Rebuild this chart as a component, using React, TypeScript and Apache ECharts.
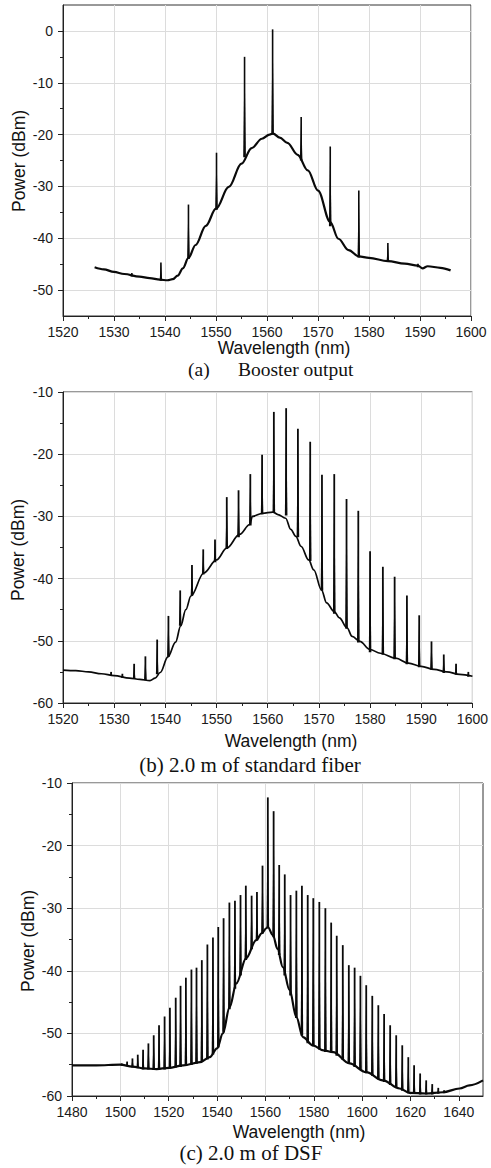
import React, { useEffect, useRef } from "react";
import * as echarts from "echarts";

// ---------- Panel (a): Booster output ----------
const aBaseWl = [1526.2, 1528, 1530, 1532, 1535, 1537, 1539, 1540.5, 1541.5, 1542.5, 1543.5, 1544.6, 1546, 1548, 1550, 1552.5, 1555, 1557, 1559, 1560.5, 1561.2, 1562.5, 1564, 1566, 1568, 1570, 1572.4, 1574, 1576, 1578, 1580, 1583.7, 1587, 1589.6, 1590.5, 1591.5, 1594, 1596];
const aBaseDb = [-45.6, -46.0, -46.5, -46.9, -47.4, -47.7, -48.0, -48.1, -47.9, -47.2, -45.8, -43.8, -41.3, -37.6, -34.3, -30.1, -25.6, -22.6, -20.8, -20.0, -19.8, -20.6, -21.6, -23.9, -26.9, -30.8, -36.9, -40.1, -42.3, -43.5, -43.8, -44.4, -44.9, -45.3, -45.8, -45.4, -45.7, -46.2];
const aSpikeWl = [1533.5, 1539.2, 1544.6, 1550.1, 1555.6, 1561.1, 1566.7, 1572.4, 1578.0, 1583.7, 1589.6];
const aSpikeBase = [-47.2, -48.0, -43.8, -34.3, -24.2, -19.8, -24.8, -37.5, -43.5, -44.4, -45.4];
const aSpikePeak = [-46.7, -44.7, -33.5, -23.5, -5.0, 0.3, -16.6, -22.3, -30.8, -40.9, -44.9];
const aXMajor = [1520, 1530, 1540, 1550, 1560, 1570, 1580, 1590, 1600];
const aXMinor = [1525, 1535, 1545, 1555, 1565, 1575, 1585, 1595];
const aYMajor = [-50, -40, -30, -20, -10, 0];
const aYMinor = [-45, -35, -25, -15, -5];

// ---------- Panel (b): 2.0 m of standard fiber ----------
const bBaseWl = [1520, 1522.5, 1525, 1527.5, 1530, 1533, 1535, 1537, 1538, 1539, 1540.5, 1542, 1543, 1544, 1545, 1547.5, 1550, 1552, 1554.5, 1556.5, 1557, 1559, 1561, 1562, 1563.5, 1564.5, 1565.5, 1566.5, 1568, 1569, 1570.5, 1571.5, 1573, 1574, 1575.5, 1576.5, 1578, 1580, 1582, 1585, 1587.5, 1590, 1592.5, 1595, 1597.5, 1600];
const bBaseDb = [-54.7, -54.8, -55.0, -55.3, -55.6, -56.0, -56.2, -56.4, -56.0, -55.1, -52.6, -50.2, -47.6, -45.0, -42.8, -39.1, -37.0, -35.1, -32.9, -31.3, -30.0, -29.5, -29.3, -29.7, -30.3, -32.1, -33.2, -34.8, -37.0, -38.6, -41.8, -43.9, -45.3, -46.3, -47.9, -49.3, -50.1, -51.4, -52.0, -52.8, -53.6, -54.1, -54.6, -55.0, -55.4, -55.7];
const bSpikeWl = [1529.4, 1531.6, 1533.9, 1536.1, 1538.4, 1540.6, 1542.9, 1545.2, 1547.4, 1549.7, 1552.0, 1554.3, 1556.6, 1558.9, 1561.2, 1563.6, 1565.9, 1568.3, 1570.6, 1573.0, 1575.4, 1577.7, 1580.0, 1582.5, 1584.8, 1587.2, 1589.6, 1592.0, 1594.4, 1596.8, 1599.2];
const bSpikeBase = [-55.5, -55.8, -56.0, -56.2, -55.2, -52.4, -47.4, -42.6, -39.2, -37.2, -35.1, -33.2, -31.3, -29.5, -29.3, -29.7, -33.2, -37.0, -41.8, -45.5, -47.9, -50.1, -51.7, -52.1, -52.8, -53.6, -54.1, -54.5, -55.0, -55.3, -55.6];
const bSpikePeak = [-55.0, -55.3, -53.7, -52.5, -49.8, -46.0, -41.9, -37.8, -35.3, -33.7, -26.9, -25.8, -23.2, -20.1, -13.2, -12.6, -15.9, -18.0, -23.3, -23.2, -27.2, -29.1, -35.6, -38.1, -39.7, -42.7, -45.9, -50.1, -52.2, -53.7, -55.0];
const bXMajor = [1520, 1530, 1540, 1550, 1560, 1570, 1580, 1590, 1600];
const bXMinor = [1525, 1535, 1545, 1555, 1565, 1575, 1585, 1595];
const bYMajor = [-60, -50, -40, -30, -20, -10];
const bYMinor = [-55, -45, -35, -25, -15];

// ---------- Panel (c): 2.0 m of DSF ----------
const cBaseWl = [1480, 1490, 1500, 1505, 1510, 1515, 1520, 1526, 1533, 1537, 1540, 1542.4, 1545.2, 1548, 1552, 1556.2, 1558.5, 1560.4, 1561, 1563.1, 1565, 1567.2, 1570, 1572.8, 1575.5, 1579.6, 1584, 1588, 1594.8, 1601.7, 1608.6, 1615.5, 1619.6, 1626.5, 1633.4, 1640.3, 1644.4, 1650];
const cBaseDb = [-55.1, -55.1, -55.0, -55.3, -55.6, -55.7, -55.5, -55.1, -54.6, -53.8, -52.4, -50.0, -45.8, -42.0, -38.0, -35.1, -34.0, -33.2, -33.0, -34.3, -36.5, -39.4, -43.1, -47.4, -50.6, -51.9, -52.7, -53.0, -54.8, -56.2, -57.5, -58.8, -59.5, -59.6, -59.4, -58.8, -58.3, -57.5];
const cSpikeWl = [1500.6, 1502.8, 1505.0, 1507.2, 1509.4, 1511.6, 1513.8, 1516.0, 1518.3, 1520.5, 1522.9, 1524.9, 1527.1, 1529.4, 1531.5, 1533.7, 1536.0, 1538.3, 1540.5, 1542.7, 1545.1, 1547.4, 1549.7, 1551.9, 1554.3, 1556.5, 1558.8, 1561.0, 1563.4, 1565.7, 1568.0, 1570.4, 1572.8, 1575.1, 1577.5, 1579.8, 1582.3, 1584.8, 1587.2, 1589.5, 1592.0, 1594.5, 1596.9, 1599.3, 1601.7, 1604.2, 1606.7, 1609.1, 1611.6, 1614.1, 1616.6, 1619.1, 1621.5, 1624.0, 1626.5, 1629.0, 1631.5, 1633.9];
const cSpikeBase = [-55.0, -55.1, -55.3, -55.4, -55.6, -55.6, -55.7, -55.7, -55.6, -55.5, -55.3, -55.2, -55.0, -54.9, -54.7, -54.4, -54.0, -53.2, -52.1, -49.7, -46.0, -42.7, -40.6, -38.1, -36.4, -35.0, -33.9, -33.0, -34.5, -37.3, -40.6, -43.8, -47.4, -50.2, -51.4, -51.9, -52.4, -52.8, -52.9, -53.4, -54.1, -54.7, -55.2, -55.7, -56.2, -56.6, -57.2, -57.6, -58.1, -58.5, -59.0, -59.4, -59.5, -59.6, -59.6, -59.6, -59.5, -59.4];
const cSpikePeak = [-54.8, -54.5, -54.0, -53.4, -52.6, -51.6, -50.3, -48.7, -47.3, -45.9, -44.3, -42.4, -41.1, -39.8, -39.5, -38.3, -35.8, -34.7, -33.0, -31.6, -29.1, -28.8, -27.9, -26.4, -28.0, -27.4, -23.2, -12.3, -14.5, -23.1, -24.6, -27.9, -27.2, -26.4, -27.9, -28.4, -29.0, -30.0, -32.3, -34.4, -35.9, -39.1, -39.5, -40.8, -42.3, -44.0, -45.5, -46.9, -48.7, -50.3, -51.9, -53.8, -55.1, -56.4, -57.5, -58.1, -58.7, -59.1];
const cXMajor = [1480, 1500, 1520, 1540, 1560, 1580, 1600, 1620, 1640];
const cXMinor = [1490, 1510, 1530, 1550, 1570, 1590, 1610, 1630];
const cYMajor = [-60, -50, -40, -30, -20, -10];
const cYMinor = [-55, -45, -35, -25, -15];

const SANS = '"Liberation Sans", Arial, sans-serif';
const SERIF = '"Liberation Serif", "Times New Roman", serif';
const AXIS_COLOR = "#222";
const GRID_COLOR = "#dcdcdc";

function mainX(gridIndex: number, min: number, max: number, majors: number[], interval: number) {
  return {
    type: "value",
    gridIndex,
    position: "bottom",
    min,
    max,
    interval,
    axisLine: { show: true, onZero: false, lineStyle: { color: AXIS_COLOR, width: 1 } },
    axisTick: { show: true, inside: false, length: 5, customValues: majors, lineStyle: { color: AXIS_COLOR } },
    axisLabel: {
      show: true,
      customValues: majors,
      margin: 9,
      color: "#1a1a1a",
      fontFamily: SANS,
      fontSize: 14,
      lineHeight: 14,
      formatter: (v: number) => String(v),
    },
    splitLine: { show: true, lineStyle: { color: GRID_COLOR, width: 1 } },
  };
}
function minorX(gridIndex: number, min: number, max: number, minors: number[], interval: number) {
  return {
    type: "value",
    gridIndex,
    position: "bottom",
    min,
    max,
    interval,
    axisLine: { show: false, onZero: false },
    axisTick: { show: true, inside: false, length: 3, customValues: minors, lineStyle: { color: AXIS_COLOR } },
    axisLabel: { show: false },
    splitLine: { show: false },
  };
}
function mainY(gridIndex: number, min: number, max: number, majors: number[], interval?: number) {
  const ax: any = {
    type: "value",
    gridIndex,
    position: "left",
    min,
    max,
    axisLine: { show: true, onZero: false, lineStyle: { color: AXIS_COLOR, width: 1 } },
    axisTick: { show: true, inside: false, length: 5, customValues: majors, lineStyle: { color: AXIS_COLOR } },
    axisLabel: {
      show: true,
      customValues: majors,
      margin: 10,
      color: "#1a1a1a",
      fontFamily: SANS,
      fontSize: 14,
      formatter: (v: number) => String(v),
    },
    splitLine: { show: true, lineStyle: { color: GRID_COLOR, width: 1 } },
  };
  if (interval !== undefined) ax.interval = interval;
  else ax.splitNumber = 6;
  return ax;
}
function minorY(gridIndex: number, min: number, max: number, minors: number[]) {
  return {
    type: "value",
    gridIndex,
    position: "left",
    min,
    max,
    interval: 5,
    axisLine: { show: false, onZero: false },
    axisTick: { show: true, inside: false, length: 3, customValues: minors, lineStyle: { color: AXIS_COLOR } },
    axisLabel: { show: false },
    splitLine: { show: false },
  };
}

function baseSeries(axisIndex: number, wl: number[], db: number[], width: number) {
  return {
    type: "line",
    xAxisIndex: axisIndex,
    yAxisIndex: axisIndex,
    data: wl.map((w, i) => [w, db[i]]),
    showSymbol: false,
    symbol: "none",
    smooth: 0.35,
    smoothMonotone: "x",
    clip: true,
    lineStyle: { color: "#0a0a0a", width },
    z: 3,
  };
}
function spikeSeries(axisIndex: number, wl: number[], base: number[], peak: number[], width: number) {
  return {
    type: "custom",
    xAxisIndex: axisIndex,
    yAxisIndex: axisIndex,
    clip: true,
    encode: { x: 0, y: [1, 2] },
    data: wl.map((w, i) => [w, base[i], peak[i]]),
    renderItem: (_params: any, api: any) => {
      const x = api.value(0);
      const p1 = api.coord([x, api.value(1)]);
      const p2 = api.coord([x, api.value(2)]);
      return {
        type: "group",
        children: [
          {
            type: "polygon",
            shape: { points: [[p1[0] - 1.3, p1[1] + 1], [p2[0], p2[1]], [p1[0] + 1.3, p1[1] + 1]] },
            style: { fill: "#0a0a0a" },
          },
          {
            type: "line",
            shape: { x1: p1[0], y1: p1[1], x2: p2[0], y2: p2[1] },
            style: { stroke: "#0a0a0a", lineWidth: width },
          },
        ],
      };
    },
    z: 4,
  };
}

function txt(x: number, y: number, text: string, font: string, rotate = 0, align = "center") {
  return {
    type: "text",
    x,
    y,
    rotation: rotate,
    style: {
      text,
      fill: "#111",
      font,
      align,
      verticalAlign: "middle",
      textAlign: align,
      textVerticalAlign: "middle",
    },
    z: 10,
  };
}

export default function App() {
  const ref = useRef<HTMLDivElement>(null);
  useEffect(() => {
    if (!ref.current) return;
    const chart = echarts.init(ref.current, undefined, { renderer: "svg" });
    const gridStyle = { show: true, borderColor: "#333", borderWidth: 1, backgroundColor: "transparent", containLabel: false };
    const option: any = {
      animation: false,
      backgroundColor: "#ffffff",
      grid: [
        { ...gridStyle, left: 63, top: 5, width: 408, height: 311 },
        { ...gridStyle, left: 63, top: 392, width: 414, height: 311 },
        { ...gridStyle, left: 72, top: 783, width: 411, height: 313 },
      ],
      xAxis: [
        mainX(0, 1520, 1600, aXMajor, 10),
        mainX(1, 1520, 1600, bXMajor, 10),
        mainX(2, 1480, 1650, cXMajor, 20),
        minorX(0, 1520, 1600, aXMinor, 5),
        minorX(1, 1520, 1600, bXMinor, 5),
        minorX(2, 1480, 1650, cXMinor, 10),
      ],
      yAxis: [
        mainY(0, -55, 5, aYMajor),
        mainY(1, -60, -10, bYMajor, 10),
        mainY(2, -60, -10, cYMajor, 10),
        minorY(0, -55, 5, aYMinor),
        minorY(1, -60, -10, bYMinor),
        minorY(2, -60, -10, cYMinor),
      ],
      series: [
        baseSeries(0, aBaseWl, aBaseDb, 2.2),
        spikeSeries(0, aSpikeWl, aSpikeBase, aSpikePeak, 1.6),
        baseSeries(1, bBaseWl, bBaseDb, 1.7),
        spikeSeries(1, bSpikeWl, bSpikeBase, bSpikePeak, 1.8),
        baseSeries(2, cBaseWl, cBaseDb, 2.2),
        spikeSeries(2, cSpikeWl, cSpikeBase, cSpikePeak, 1.8),
      ],
      graphic: [
        txt(19, 161, "Power (dBm)", `17.5px ${SANS}`, Math.PI / 2),
        txt(284, 348, "Wavelength (nm)", `17.5px ${SANS}`),
        txt(188, 369, "(a)", `19.5px ${SERIF}`, 0, "left"),
        txt(238, 369, "Booster output", `19.5px ${SERIF}`, 0, "left"),

        txt(18, 550, "Power (dBm)", `17.5px ${SANS}`, Math.PI / 2),
        txt(291, 741, "Wavelength (nm)", `17.5px ${SANS}`),
        txt(250, 765, "(b) 2.0 m of standard fiber", `21px ${SERIF}`),

        txt(28, 941, "Power (dBm)", `17.5px ${SANS}`, Math.PI / 2),
        txt(299, 1132, "Wavelength (nm)", `17.5px ${SANS}`),
        txt(251, 1153, "(c) 2.0 m of DSF", `21px ${SERIF}`),
      ],
    };
    chart.setOption(option);
    return () => chart.dispose();
  }, []);
  return (
    <div
      ref={ref}
      style={{ position: "fixed", left: 0, top: 0, width: 491, height: 1168, background: "#fff" }}
    />
  );
}
